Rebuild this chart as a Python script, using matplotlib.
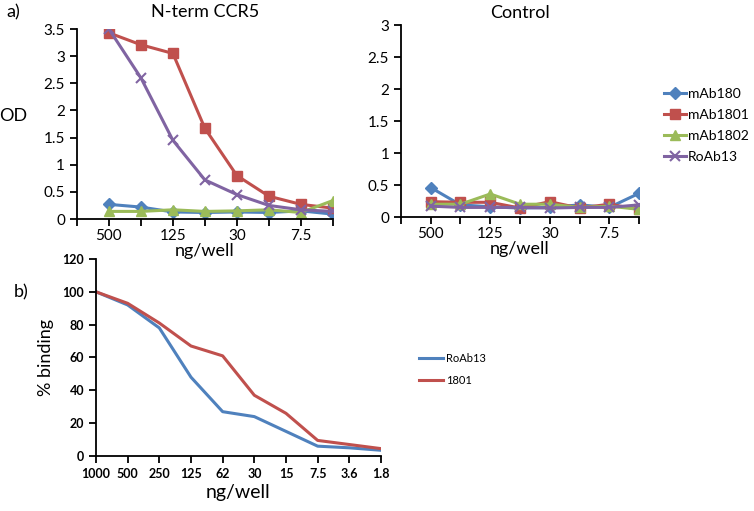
import numpy as np
import matplotlib.pyplot as plt

plt.rcParams['font.family'] = ['Lato', 'DejaVu Sans']

# Werte
dosis_a = ["500", "", "125", "", "30", "", "7.5", ""]
namen = ["mAb180", "mAb1801", "mAb1802", "RoAb13"]

nterm = {
    "mAb180": [0.27, 0.22, 0.13, 0.12, 0.13, 0.12, 0.15, 0.09],
    "mAb1801": [3.43, 3.21, 3.05, 1.67, 0.80, 0.42, 0.27, 0.20],
    "mAb1802": [0.14, 0.14, 0.17, 0.14, 0.15, 0.17, 0.12, 0.34],
    "RoAb13": [3.50, 2.60, 1.45, 0.72, 0.45, 0.25, 0.17, 0.14],
}
kontrolle = {
    "mAb180": [0.46, 0.19, 0.16, 0.14, 0.15, 0.19, 0.15, 0.37],
    "mAb1801": [0.24, 0.23, 0.23, 0.14, 0.24, 0.14, 0.20, 0.12],
    "mAb1802": [0.20, 0.20, 0.36, 0.20, 0.20, 0.15, 0.17, 0.12],
    "RoAb13": [0.17, 0.15, 0.15, 0.15, 0.14, 0.15, 0.15, 0.19],
}

dosis_b = ["1000", "500", "250", "125", "62", "30", "15", "7.5", "3.6", "1.8"]
roab13 = [100, 92, 78, 48, 27, 24, 15, 6, 5, 3.5]
ab1801 = [100, 93, 81, 67, 61, 37, 26, 9.5, 7, 4.5]

farben = {"mAb180": "#4F81BD", "mAb1801": "#C0504D",
          "mAb1802": "#9BBB59", "RoAb13": "#8064A2"}
marker = {"mAb180": "D", "mAb1801": "s", "mAb1802": "^", "RoAb13": "x"}
msize = {"mAb180": 6, "mAb1801": 7, "mAb1802": 7, "RoAb13": 7}

fig = plt.figure(figsize=(7.54, 5.11), dpi=100)
ax1 = fig.add_axes([0.102, 0.5714, 0.3395, 0.3718])
ax2 = fig.add_axes([0.5318, 0.5753, 0.3157, 0.3757])
ax3 = fig.add_axes([0.1273, 0.1076, 0.378, 0.3856])


def stil(ax):
    for s in ["top", "right"]:
        ax.spines[s].set_visible(False)
    for s in ["left", "bottom"]:
        ax.spines[s].set_linewidth(1.3)
    ax.tick_params(width=1.3, length=5, direction="out")


x = np.arange(1, 9)
for ax, daten, ymax in [(ax1, nterm, 3.5), (ax2, kontrolle, 3.0)]:
    for n in namen:
        ax.plot(x, daten[n], color=farben[n], marker=marker[n], lw=2.2,
                ms=msize[n], mew=1.5 if n == "RoAb13" else 1, label=n)
    ax.set_xlim(0, 8)
    ax.set_ylim(0, ymax)
    ax.set_yticks(np.arange(0, ymax + 0.01, 0.5))
    ax.set_yticklabels(["%g" % v for v in np.arange(0, ymax + 0.01, 0.5)])
    ax.set_xticks(np.arange(0, 9))
    ax.set_xticklabels([""] + dosis_a)
    stil(ax)
    ax.tick_params(labelsize=11)
    ax.tick_params(axis="x", pad=2)
    ax.set_xlabel("ng/well", fontsize=13, labelpad=0)

ax1.set_title("N-term CCR5", fontsize=13, pad=9)
ax2.set_title("Control", fontsize=13, pad=5)
ax1.set_ylabel("OD", fontsize=13, rotation=0, labelpad=22)
ax2.legend(loc="center left", bbox_to_anchor=(1.105, 0.477), frameon=False,
           fontsize=10, handlelength=1.6, handletextpad=0.1,
           labelspacing=0.65, borderpad=0, borderaxespad=0)

xb = np.arange(len(dosis_b))
ax3.plot(xb, roab13, color="#4F81BD", lw=2.2, label="RoAb13")
ax3.plot(xb, ab1801, color="#C0504D", lw=2.2, label="1801")
ax3.set_xlim(0, 9)
ax3.set_ylim(0, 120)
ax3.set_yticks(range(0, 121, 20))
ax3.set_xticks(xb)
ax3.set_xticklabels(dosis_b)
stil(ax3)
ax3.tick_params(labelsize=9)
for t in ax3.get_xticklabels() + ax3.get_yticklabels():
    t.set_fontweight("bold")
ax3.set_xlabel("ng/well", fontsize=14, labelpad=3)
ax3.set_ylabel("% binding", fontsize=13, labelpad=6)
ax3.legend(loc="center left", bbox_to_anchor=(1.133, 0.44), frameon=False,
           fontsize=8, handlelength=2.2, handletextpad=0.2, labelspacing=1.0,
           borderpad=0, borderaxespad=0)

fig.text(0.008, 0.975, "a)", fontsize=13, va="center")
fig.text(0.018, 0.427, "b)", fontsize=13, va="center")

fig.savefig("out.png", dpi=100)
